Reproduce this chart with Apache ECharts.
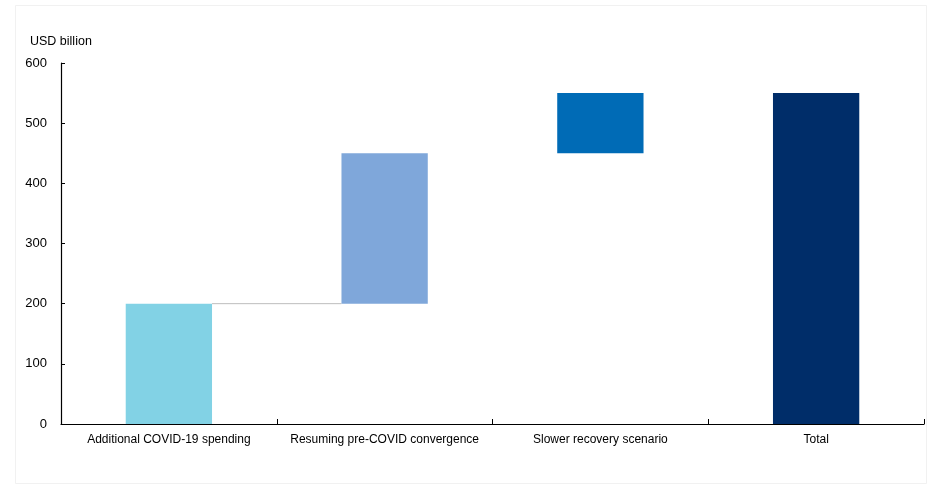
<!DOCTYPE html>
<html>
<head>
<meta charset="utf-8">
<style>
  html, body { margin: 0; padding: 0; background: #ffffff; }
  #chart { width: 940px; height: 491px; }
</style>
<script src="https://cdn.jsdelivr.net/npm/echarts@6/dist/echarts.min.js"></script>
</head>
<body>
<div id="chart"></div>
<script>
// Waterfall components (USD billion)
const categories = [
  'Additional COVID-19 spending',
  'Resuming pre-COVID convergence',
  'Slower recovery scenario',
  'Total'
];
// Invisible base each step starts from
const baseValues = [0, 200, 450, 0];
// Visible increment of each step
const stepValues = [200, 250, 100, 550];
// Connector: [from category index, to category index, level]
const connectors = [[0, 1, 200]];
const barColors = ['#82D2E5', '#7FA7DA', '#006BB6', '#002D69'];
const yTicks = { min: 0, max: 600, interval: 100 };

const BAR_RATIO = 0.4;
const font = 'Liberation Sans, Arial, sans-serif';
const chart = echarts.init(document.getElementById('chart'));

chart.setOption({
  animation: false,
  backgroundColor: '#ffffff',
  textStyle: { fontFamily: font },
  graphic: [
    {
      type: 'rect',
      shape: { x: 15.5, y: 5.5, width: 911, height: 478 },
      style: { fill: 'none', stroke: '#f1f1f1', lineWidth: 1 },
      silent: true, z: -1
    },
    {
      type: 'text',
      left: 30, top: 35,
      style: { text: 'USD billion', font: '12.5px ' + font, fill: '#000000' }
    }
  ],
  grid: { left: 61, right: 16, top: 63, bottom: 67, containLabel: false },
  xAxis: {
    type: 'category',
    data: categories,
    axisLine: { lineStyle: { color: '#000000', width: 1.2 } },
    axisTick: { show: true, inside: true, length: 5, alignWithLabel: false,
                lineStyle: { color: '#000000' } },
    axisLabel: { color: '#000000', fontSize: 12, margin: 10, interval: 0 },
    splitLine: { show: false }
  },
  yAxis: {
    type: 'value',
    min: yTicks.min, max: yTicks.max, interval: yTicks.interval,
    axisLine: { show: true, lineStyle: { color: '#000000', width: 1.2 } },
    axisTick: { show: true, inside: true, length: 4, lineStyle: { color: '#000000' } },
    axisLabel: { color: '#000000', fontSize: 13, margin: 14 },
    splitLine: { show: false }
  },
  series: [
    {
      name: 'connector',
      type: 'custom',
      silent: true,
      z: 1,
      data: connectors,
      renderItem: function (params, api) {
        const from = api.coord([api.value(0), api.value(2)]);
        const to = api.coord([api.value(1), api.value(2)]);
        const half = api.size([1, 0])[0] * BAR_RATIO / 2;
        return {
          type: 'line',
          shape: { x1: from[0] + half, y1: from[1], x2: to[0] - half, y2: to[1] },
          style: { stroke: '#bdbdbd', lineWidth: 1 }
        };
      }
    },
    {
      name: 'base',
      type: 'bar',
      stack: 'wf',
      data: baseValues,
      barWidth: (BAR_RATIO * 100) + '%',
      itemStyle: { color: 'transparent' },
      z: 2,
      silent: true
    },
    {
      name: 'step',
      type: 'bar',
      stack: 'wf',
      barWidth: (BAR_RATIO * 100) + '%',
      data: stepValues.map((v, i) => ({ value: v, itemStyle: { color: barColors[i] } })),
      z: 3
    }
  ]
});
</script>
</body>
</html>
